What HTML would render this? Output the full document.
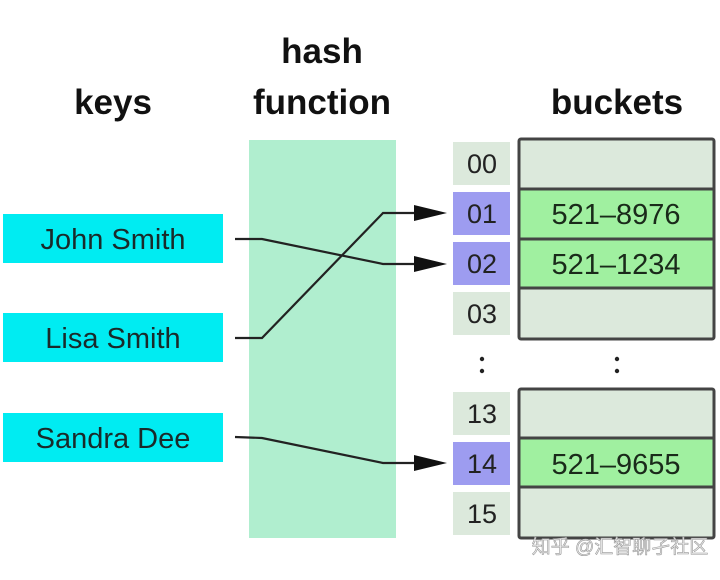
<!DOCTYPE html>
<html><head><meta charset="utf-8"><style>
body{margin:0;width:720px;height:575px;background:#fff;overflow:hidden}
</style></head><body>
<svg width="720" height="575" xmlns="http://www.w3.org/2000/svg" font-family="Liberation Sans, sans-serif">
<g font-weight="bold" font-size="35" fill="#111" text-anchor="middle">
<text x="322" y="63">hash</text>
<text x="322" y="114">function</text>
<text x="113" y="114">keys</text>
<text x="617" y="114">buckets</text>
</g>
<rect x="249" y="140" width="147" height="398" fill="#b0eecf"/>
<g fill="#00ecf2">
<rect x="3" y="214" width="220" height="49"/>
<rect x="3" y="313" width="220" height="49"/>
<rect x="3" y="413" width="220" height="49"/>
</g>
<g font-size="29" fill="#1a2a2a" text-anchor="middle">
<text x="113" y="249">John Smith</text>
<text x="113" y="348">Lisa Smith</text>
<text x="113" y="448">Sandra Dee</text>
</g>
<g>
<rect x="453" y="142" width="57" height="43" fill="#dce9dc"/>
<rect x="453" y="192" width="57" height="43" fill="#9d9cf0"/>
<rect x="453" y="242" width="57" height="43" fill="#9d9cf0"/>
<rect x="453" y="292" width="57" height="43" fill="#dce9dc"/>
<rect x="453" y="392" width="57" height="43" fill="#dce9dc"/>
<rect x="453" y="442" width="57" height="43" fill="#9d9cf0"/>
<rect x="453" y="492" width="57" height="43" fill="#dce9dc"/>
</g>
<g font-size="27" fill="#222" text-anchor="middle">
<text x="482" y="173">00</text>
<text x="482" y="223">01</text>
<text x="482" y="273">02</text>
<text x="482" y="323">03</text>
<text x="482" y="423">13</text>
<text x="482" y="473">14</text>
<text x="482" y="523">15</text>
</g>
<g stroke="#444" stroke-width="3">
<rect x="519" y="139" width="195" height="200" fill="#dce9dc" rx="2"/>
<rect x="519" y="189" width="195" height="50" fill="#a0f0a0"/>
<rect x="519" y="239" width="195" height="49" fill="#a0f0a0"/>
<rect x="519" y="389" width="195" height="149" fill="#dce9dc" rx="2"/>
<rect x="519" y="438" width="195" height="49" fill="#a0f0a0"/>
</g>
<g font-size="29" fill="#1a2a1a" text-anchor="middle">
<text x="616" y="224">521–8976</text>
<text x="616" y="274">521–1234</text>
<text x="616" y="474">521–9655</text>
</g>
<g fill="#222">
<circle cx="482" cy="359" r="2.2"/><circle cx="482" cy="371" r="2.2"/>
<circle cx="617" cy="359" r="2.2"/><circle cx="617" cy="371" r="2.2"/>
</g>
<g fill="none" stroke="#222" stroke-width="2.2">
<polyline points="235,239 262,239 383,264 420,264"/>
<polyline points="235,338 262,338 383,213 420,213"/>
<polyline points="235,437 262,438 383,463 420,463"/>
</g>
<g fill="#111">
<polygon points="414,205 447,213 414,221"/>
<polygon points="414,256 447,264 414,272"/>
<polygon points="414,455 447,463 414,471"/>
</g>
<text x="620" y="553" font-size="19" fill="#eee" stroke="#999" stroke-width="0.6" text-anchor="middle" font-family="Liberation Sans, Noto Sans CJK SC, sans-serif">知乎 @汇智聊孑社区</text>
</svg>
</body></html>
